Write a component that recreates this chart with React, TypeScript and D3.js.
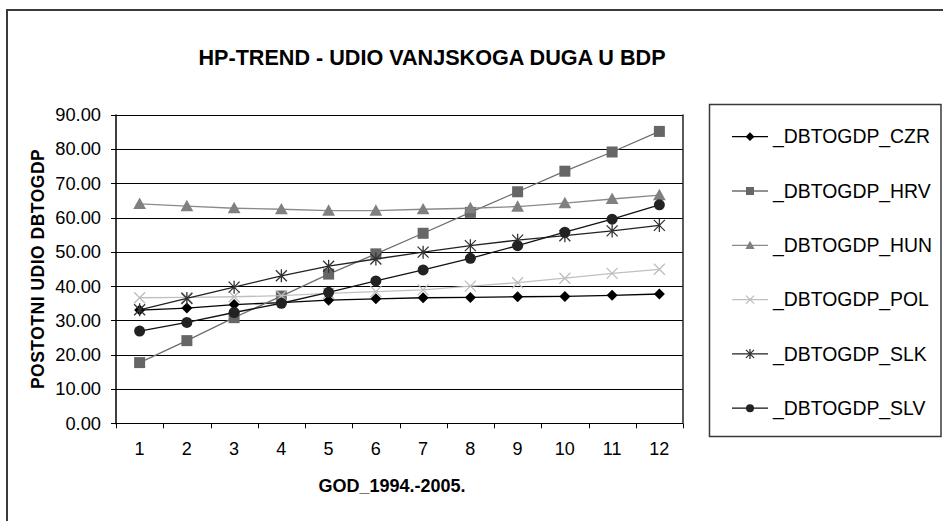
import React from "react";
import * as d3 from "d3";

const categories = ["1", "2", "3", "4", "5", "6", "7", "8", "9", "10", "11", "12"];
const yTicks = [0, 10, 20, 30, 40, 50, 60, 70, 80, 90];
const seriesNames = ["_DBTOGDP_CZR", "_DBTOGDP_HRV", "_DBTOGDP_HUN", "_DBTOGDP_POL", "_DBTOGDP_SLK", "_DBTOGDP_SLV"];
const czr = [33.0, 33.6, 34.6, 35.2, 35.9, 36.3, 36.6, 36.7, 36.9, 37.0, 37.3, 37.7];
const hrv = [17.7, 24.1, 30.8, 37.1, 43.5, 49.4, 55.4, 61.5, 67.5, 73.5, 79.1, 85.1];
const hun = [64.0, 63.3, 62.7, 62.4, 62.0, 62.0, 62.4, 62.7, 63.2, 64.2, 65.4, 66.5];
const pol = [36.6, 36.7, 36.9, 37.2, 37.9, 38.4, 38.9, 40.0, 41.0, 42.3, 43.7, 44.9];
const slk = [33.1, 36.4, 39.7, 43.0, 45.8, 47.9, 49.9, 51.8, 53.4, 54.7, 56.1, 57.7];
const slv = [26.9, 29.4, 32.3, 35.0, 38.2, 41.5, 44.7, 48.1, 51.8, 55.7, 59.5, 63.7];

const title = "HP-TREND - UDIO VANJSKOGA DUGA U BDP";
const xTitle = "GOD_1994.-2005.";
const yTitle = "POSTOTNI UDIO DBTOGDP";

const FONT = "'Liberation Sans', Arial, Helvetica, sans-serif";

type Style = { line: string; fill: string; marker: string };
const styles: Style[] = [
  { line: "#000", fill: "#000", marker: "diamond" },
  { line: "#6e6e6e", fill: "#666", marker: "square" },
  { line: "#8a8a8a", fill: "#808080", marker: "triangle" },
  { line: "#c0c0c0", fill: "#bdbdbd", marker: "x" },
  { line: "#222", fill: "#333", marker: "star" },
  { line: "#111", fill: "#222", marker: "circle" },
];

function Marker({ kind, x, y, s, color }: { kind: string; x: number; y: number; s: number; color: string }) {
  if (kind === "diamond") {
    const r = s * 0.55;
    return <path d={`M${x},${y - r}L${x + r},${y}L${x},${y + r}L${x - r},${y}Z`} fill={color} />;
  }
  if (kind === "square") {
    const r = s / 2;
    return <rect x={x - r} y={y - r} width={s} height={s} fill={color} />;
  }
  if (kind === "triangle") {
    const r = s * 0.58;
    return <path d={`M${x},${y - r}L${x + r},${y + r * 0.8}L${x - r},${y + r * 0.8}Z`} fill={color} />;
  }
  if (kind === "x") {
    const r = s / 2;
    return (
      <path d={`M${x - r},${y - r}L${x + r},${y + r}M${x - r},${y + r}L${x + r},${y - r}`} stroke={color} strokeWidth={1.3} />
    );
  }
  if (kind === "star") {
    const r = s / 2;
    return (
      <path
        d={`M${x - r},${y - r}L${x + r},${y + r}M${x - r},${y + r}L${x + r},${y - r}M${x},${y - r - 1}L${x},${y + r + 1}`}
        stroke={color}
        strokeWidth={1.3}
      />
    );
  }
  return <circle cx={x} cy={y} r={s / 2} fill={color} />;
}

export default function App() {
  const W = 943, H = 521;
  const left = 116, right = 683, top = 114.6, bottom = 423.3;
  const x = d3.scaleBand<string>().domain(categories).range([left, right]);
  const y = d3.scaleLinear().domain([0, 90]).range([bottom, top]);
  const series = [czr, hrv, hun, pol, slk, slv];
  const line = d3
    .line<number>()
    .x((_, i) => (x(categories[i]) as number) + x.bandwidth() / 2)
    .y((v) => y(v));

  const legendY0 = 136.7, legendStep = 54.3;
  const boundaries = d3.range(categories.length + 1).map((i) => left + i * x.bandwidth());

  return (
    <svg
      width={W}
      height={H}
      style={{ position: "fixed", left: 0, top: 0, background: "#fff" }}
      fontFamily={FONT}
    >
      <rect x={0} y={0} width={W} height={H} fill="#fff" />
      <rect x={7} y={10} width={1000} height={600} fill="none" stroke="#3a3a3a" strokeWidth={2} />

      <text x={432} y={65} textAnchor="middle" fontWeight="bold" fontSize={21.6}>
        {title}
      </text>

      {/* gridlines */}
      {yTicks.map((t) => (
        <line key={t} x1={left} x2={right} y1={Math.round(y(t)) + 0.5} y2={Math.round(y(t)) + 0.5} stroke="#000" strokeWidth={1} />
      ))}
      <line x1={right} x2={right} y1={top} y2={bottom} stroke="#222" strokeWidth={1.5} />
      <line x1={left} x2={left} y1={top} y2={bottom + 1} stroke="#000" strokeWidth={1.5} />

      {/* y ticks */}
      {yTicks.map((t) => (
        <g key={"yt" + t}>
          <line x1={111} x2={left} y1={Math.round(y(t)) + 0.5} y2={Math.round(y(t)) + 0.5} stroke="#000" />
          <text x={101} y={y(t)} dy="0.35em" textAnchor="end" fontSize={18.3}>
            {d3.format(".2f")(t)}
          </text>
        </g>
      ))}

      {/* x ticks */}
      {boundaries.map((b, i) => (
        <line key={"xt" + i} x1={Math.round(b) + 0.5} x2={Math.round(b) + 0.5} y1={bottom} y2={bottom + 5} stroke="#000" />
      ))}
      {categories.map((c) => (
        <text key={"xl" + c} x={(x(c) as number) + x.bandwidth() / 2} y={455} textAnchor="middle" fontSize={18}>
          {c}
        </text>
      ))}

      <text x={392} y={492} textAnchor="middle" fontWeight="bold" fontSize={18}>
        {xTitle}
      </text>
      <text
        transform={`translate(44,${(top + bottom) / 2}) rotate(-90)`}
        textAnchor="middle"
        fontWeight="bold"
        fontSize={17.5}
        letterSpacing={0.5}
      >
        {yTitle}
      </text>

      {/* series */}
      {series.map((s, k) => (
        <g key={"s" + k}>
          <path d={line(s) as string} fill="none" stroke={styles[k].line} strokeWidth={1.3} />
          {s.map((v, i) => (
            <Marker
              key={i}
              kind={styles[k].marker}
              x={(x(categories[i]) as number) + x.bandwidth() / 2}
              y={y(v)}
              s={styles[k].marker === "diamond" ? 10 : 11}
              color={styles[k].fill}
            />
          ))}
        </g>
      ))}

      {/* legend */}
      <rect x={709.5} y={104.5} width={231.5} height={332} fill="#fff" stroke="#3a3a3a" strokeWidth={1.5} />
      {seriesNames.map((n, k) => {
        const ly = legendY0 + k * legendStep;
        return (
          <g key={n}>
            <line x1={732} x2={768} y1={ly} y2={ly} stroke={styles[k].line} strokeWidth={1.3} />
            <Marker kind={styles[k].marker} x={750} y={ly} s={8} color={styles[k].fill} />
            <text x={773} y={ly} dy="0.35em" fontSize={19.4}>
              {n}
            </text>
          </g>
        );
      })}
    </svg>
  );
}
